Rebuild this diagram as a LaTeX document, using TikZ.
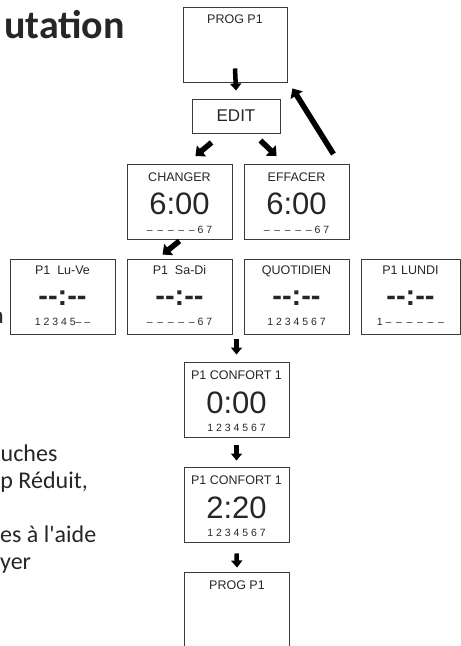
\documentclass[tikz,border=0pt]{standalone}
\usepackage{fontspec}
\setmainfont{Liberation Sans}
\newfontfamily\docfont{Carlito}
\usetikzlibrary{arrows.meta,calc}

\definecolor{boxgray}{HTML}{3A3A3A}
\definecolor{txtgray}{HTML}{262626}

\tikzset{
  screen/.style={draw=boxgray, line width=0.9pt, minimum width=105pt, minimum height=75pt, inner sep=0pt},
  ttl/.style={font=\fontsize{12.5}{14}\selectfont, text=txtgray, inner sep=0pt, text height=9pt, text depth=2.5pt},
  clock/.style={font=\fontsize{31}{33}\selectfont, text=txtgray, inner sep=0pt},
  blank/.style={font=\bfseries\fontsize{29}{31}\selectfont, text=txtgray, inner sep=0pt},
  days/.style={font=\fontsize{10.5}{12}\selectfont, text=txtgray, inner sep=0pt},
  doc/.style={font=\docfont\fontsize{24}{28}\selectfont, text=txtgray, inner sep=0pt, anchor=base west},
  blk/.style={line width=4.5pt, -{Triangle[width=11pt,length=7pt]}},
  blkd/.style={line width=5.5pt, -{Triangle[width=14pt,length=8pt]}},
}
\newcommand{\nodays}{–\,\ –\,\ –\,\ –\,\ –}

\begin{document}
\begin{tikzpicture}[x=1pt,y=-1pt]
\useasboundingbox (0,0) rectangle (461,646);

% page text cut off on the left
\node[doc, anchor=base east, font=\docfont\bfseries\fontsize{40}{44}\selectfont] (head) at (125,38) {utation};
\node[doc, anchor=base east] (frag1) at (4,323) {n};
\node[doc] (frag2) at (0.5,461) {uches};
\node[doc, anchor=base east] (frag3) at (88,488) {p Réduit,};
\node[doc] (frag4) at (0,542) {es à l'aide};
\node[doc] (frag5) at (0,569) {yer};

% screens
\node[screen, minimum width=104pt] (prog) at (235,44.5) {};
\node[ttl] at ($(prog.north)+(0,14)$) {PROG P1};

\node[screen, minimum width=88pt, minimum height=34pt, font=\fontsize{17}{19}\selectfont, text=txtgray] (edit) at (236,116) {EDIT};

\node[screen] (chg) at (179.5,202) {};
\node[ttl] at ($(chg.north)+(0,14)$) {CHANGER};
\node[clock] at ($(chg.north)+(0,40)$) {6:00};
\node[days] at ($(chg.north)+(0,66)$) {\nodays\ 6 7};

\node[screen] (eff) at (296.5,202) {};
\node[ttl] at ($(eff.north)+(0,14)$) {EFFACER};
\node[clock] at ($(eff.north)+(0,40)$) {6:00};
\node[days] at ($(eff.north)+(0,66)$) {\nodays\ 6 7};

\node[screen] (luve) at (62.5,296.5) {};
\node[ttl] at ($(luve.north)+(0,13)$) {P1\ \ Lu-Ve};
\node[blank] at ($(luve.north)+(0,40)$) {-{}-:-{}-};
\node[days] at ($(luve.north)+(0,63)$) {1 2 3 4 5– –};

\node[screen] (sadi) at (179.5,296.5) {};
\node[ttl] at ($(sadi.north)+(0,13)$) {P1\ \ Sa-Di};
\node[blank] at ($(sadi.north)+(0,40)$) {-{}-:-{}-};
\node[days] at ($(sadi.north)+(0,63)$) {\nodays\ 6 7};

\node[screen] (qt) at (296.5,296.5) {};
\node[ttl] at ($(qt.north)+(0,13)$) {QUOTIDIEN};
\node[blank] at ($(qt.north)+(0,40)$) {-{}-:-{}-};
\node[days] at ($(qt.north)+(0,63)$) {1 2 3 4 5 6 7};

\node[screen, minimum width=99pt] (lundi) at (410.5,296.5) {};
\node[ttl] at ($(lundi.north)+(0,13)$) {P1 LUNDI};
\node[blank] at ($(lundi.north)+(0,40)$) {-{}-:-{}-};
\node[days] at ($(lundi.north)+(0,63)$) {1\ \nodays\,\ –};

\node[screen] (conf1) at (236.5,399.5) {};
\node[ttl] at ($(conf1.north)+(0,15)$) {P1 CONFORT 1};
\node[clock] at ($(conf1.north)+(0,41)$) {0:00};
\node[days] at ($(conf1.north)+(0,66)$) {1 2 3 4 5 6 7};

\node[screen] (conf2) at (236.5,504.5) {};
\node[ttl] at ($(conf2.north)+(0,15)$) {P1 CONFORT 1};
\node[clock] at ($(conf2.north)+(0,41)$) {2:20};
\node[days] at ($(conf2.north)+(0,66)$) {1 2 3 4 5 6 7};

\node[screen, draw=none, minimum width=104pt, minimum height=76pt] (prog2) at (237,611) {};
\draw[boxgray, line width=0.9pt] (prog2.south west) -- (prog2.north west) -- (prog2.north east) -- (prog2.south east);
\node[ttl] at ($(prog2.north)+(0,14)$) {PROG P1};

% arrows
\draw[blk] ([yshift=14pt]prog.south) -- ([yshift=8pt]edit.north);
\draw[blkd] ($(edit.south west)+(20,9)$) -- ($(chg.north east)+(-37,-8)$);
\draw[blkd] ($(edit.south east)+(-20,7)$) -- ($(eff.north west)+(33,-8)$);
\draw[blkd] ($(eff.north east)+(-16,-10)$) -- ($(prog.south east)+(5,6)$);
\draw[blkd] ($(chg.south)+(0,1)$) -- ($(sadi.north)+(-17,-4)$);
\draw[blk] ([yshift=-5pt]sadi.south -| conf1.north) -- ([yshift=7pt]conf1.north);
\draw[blk] ([yshift=-8pt]conf1.south) -- ([yshift=6pt]conf2.north);
\draw[blk] ([yshift=-11pt]conf2.south) -- ([yshift=5pt]prog2.north);
\end{tikzpicture}
\end{document}
